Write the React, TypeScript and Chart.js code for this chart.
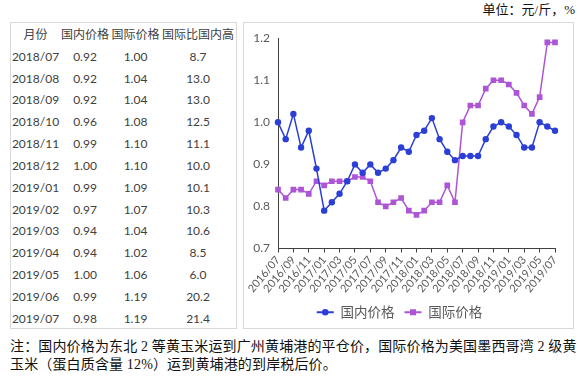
import React, { useEffect, useRef } from "react";
import { Chart, registerables } from "chart.js";

Chart.register(...registerables);

const months = [
  "2016/07", "2016/08", "2016/09", "2016/10", "2016/11", "2016/12",
  "2017/01", "2017/02", "2017/03", "2017/04", "2017/05", "2017/06",
  "2017/07", "2017/08", "2017/09", "2017/10", "2017/11", "2017/12",
  "2018/01", "2018/02", "2018/03", "2018/04", "2018/05", "2018/06",
  "2018/07", "2018/08", "2018/09", "2018/10", "2018/11", "2018/12",
  "2019/01", "2019/02", "2019/03", "2019/04", "2019/05", "2019/06",
  "2019/07",
];

const domesticPrice = [
  1.0, 0.96, 1.02, 0.94, 0.98, 0.89,
  0.79, 0.81, 0.83, 0.86, 0.9, 0.88,
  0.9, 0.88, 0.89, 0.91, 0.94, 0.93,
  0.97, 0.98, 1.01, 0.96, 0.93, 0.91,
  0.92, 0.92, 0.92, 0.96, 0.99, 1.0,
  0.99, 0.97, 0.94, 0.94, 1.0, 0.99,
  0.98,
];

const intlPrice = [
  0.84, 0.82, 0.84, 0.84, 0.83, 0.86,
  0.85, 0.86, 0.86, 0.86, 0.87, 0.87,
  0.86, 0.81, 0.8, 0.81, 0.82, 0.79,
  0.78, 0.79, 0.81, 0.81, 0.85, 0.81,
  1.0, 1.04, 1.04, 1.08, 1.1, 1.1,
  1.09, 1.07, 1.04, 1.02, 1.06, 1.19,
  1.19,
];

const tableHeaders = ["月份", "国内价格", "国际价格", "国际比国内高"];
const tableMonths = [
  "2018/07", "2018/08", "2018/09", "2018/10", "2018/11", "2018/12",
  "2019/01", "2019/02", "2019/03", "2019/04", "2019/05", "2019/06", "2019/07",
];
const tableDomestic = ["0.92", "0.92", "0.92", "0.96", "0.99", "1.00", "0.99", "0.97", "0.94", "0.94", "1.00", "0.99", "0.98"];
const tableIntl = ["1.00", "1.04", "1.04", "1.08", "1.10", "1.10", "1.09", "1.07", "1.04", "1.02", "1.06", "1.19", "1.19"];
const tablePct = ["8.7", "13.0", "13.0", "12.5", "11.1", "10.0", "10.1", "10.3", "10.6", "8.5", "6.0", "20.2", "21.4"];

const seriesNames = ["国内价格", "国际价格"];
const yTicks = { min: 0.7, max: 1.2, step: 0.1 };

const unitText = "单位：元/斤，%";
const noteLine1 = "注：国内价格为东北 2 等黄玉米运到广州黄埔港的平仓价，国际价格为美国墨西哥湾 2 级黄";
const noteLine2 = "玉米（蛋白质含量 12%）运到黄埔港的到岸税后价。";

const BLUE = "#2b3fd6";
const PURPLE = "#ad55d6";
const AXIS = "#404040";
const LABEL = "#595959";

const legendMarkers = {
  id: "legendMarkers",
  afterDraw(chart: any) {
    const lg = chart.legend;
    if (!lg || !lg.legendHitBoxes) return;
    const ctx = chart.ctx;
    lg.legendHitBoxes.forEach((hb: any, i: number) => {
      const color = i === 0 ? BLUE : PURPLE;
      const cy = hb.top + hb.height / 2;
      const x0 = hb.left;
      const w = 17;
      ctx.save();
      ctx.strokeStyle = color;
      ctx.fillStyle = color;
      ctx.lineWidth = 2;
      ctx.beginPath();
      ctx.moveTo(x0, cy);
      ctx.lineTo(x0 + w, cy);
      ctx.stroke();
      if (i === 0) {
        ctx.beginPath();
        ctx.arc(x0 + w / 2, cy, 3.3, 0, Math.PI * 2);
        ctx.fill();
      } else {
        ctx.fillRect(x0 + w / 2 - 3, cy - 3, 6, 6);
      }
      ctx.restore();
    });
  },
};

function PriceChart() {
  const ref = useRef<HTMLCanvasElement | null>(null);
  useEffect(() => {
    if (!ref.current) return;
    const font = "Lato, 'Noto Sans CJK SC', sans-serif";
    const chart = new Chart(ref.current, {
      type: "line",
      data: {
        labels: months,
        datasets: [
          {
            label: seriesNames[0],
            data: domesticPrice,
            borderColor: BLUE,
            backgroundColor: BLUE,
            borderWidth: 1.5,
            pointStyle: "circle",
            pointRadius: 3.2,
            pointBorderWidth: 0,
            tension: 0,
          },
          {
            label: seriesNames[1],
            data: intlPrice,
            borderColor: PURPLE,
            backgroundColor: PURPLE,
            borderWidth: 1.5,
            pointStyle: "rect",
            pointRadius: 4,
            pointBorderWidth: 0,
            tension: 0,
          },
        ],
      },
      options: {
        animation: false,
        responsive: false,
        events: [],
        layout: { padding: { left: 0, top: 15, right: 19, bottom: 0 } },
        plugins: {
          tooltip: { enabled: false },
          legend: {
            position: "bottom",
            labels: {
              usePointStyle: true,
              pointStyleWidth: 17,
              padding: 10,
              color: LABEL,
              font: { family: font, size: 13.5 },
              generateLabels: () => [
                { text: seriesNames[0], pointStyle: false as any, fillStyle: BLUE, strokeStyle: BLUE, lineWidth: 0, hidden: false, datasetIndex: 0, fontColor: LABEL },
                { text: seriesNames[1], pointStyle: false as any, fillStyle: PURPLE, strokeStyle: PURPLE, lineWidth: 0, hidden: false, datasetIndex: 1, fontColor: LABEL },
              ],
            },
          },
        },
        scales: {
          x: {
            type: "category",
            offset: false,
            afterBuildTicks: (scale: any) => {
              scale.ticks = scale.ticks.filter((t: any) => t.value % 2 === 0);
            },
            afterFit: (scale: any) => {
              scale.height = 47;
            },
            grid: {
              display: true,
              drawOnChartArea: false,
              drawTicks: true,
              tickLength: 4,
              color: AXIS,
              tickColor: AXIS,
            },
            border: { display: true, color: AXIS, width: 1 },
            ticks: {
              autoSkip: false,
              minRotation: 50,
              maxRotation: 50,
              padding: 1,
              color: LABEL,
              font: { family: font, size: 11 },
            },
          },
          y: {
            min: yTicks.min,
            max: yTicks.max,
            afterFit: (scale: any) => {
              scale.width = 34;
            },
            grid: { display: false, drawTicks: false },
            border: { display: true, color: AXIS, width: 1 },
            ticks: {
              stepSize: yTicks.step,
              padding: 8,
              color: LABEL,
              font: { family: font, size: 12 },
              callback: (v: any) => Number(v).toFixed(1),
            },
          },
        },
      },
      plugins: [legendMarkers],
    });
    return () => chart.destroy();
  }, []);
  return <canvas ref={ref} width={330} height={306} style={{ width: 330, height: 306, display: "block" }} />;
}

export default function App() {
  const tableFont = "Lato, 'Noto Sans CJK SC', sans-serif";
  const colCenters = [35.5, 85, 135.5, 198];
  const rowH = 21.83;
  const headerY = 35;
  const cell = (text: string, cx: number, cy: number, key: string) => (
    <div
      key={key}
      style={{
        position: "absolute",
        left: cx - 45,
        top: cy - 11,
        width: 90,
        height: 22,
        lineHeight: "22px",
        textAlign: "center",
        whiteSpace: "nowrap",
      }}
    >
      {text}
    </div>
  );
  const cells: React.ReactNode[] = [];
  tableHeaders.forEach((h, i) => cells.push(cell(h, colCenters[i], headerY, "h" + i)));
  tableMonths.forEach((m, r) => {
    const cy = headerY + (r + 1) * rowH;
    cells.push(cell(m, colCenters[0], cy, "m" + r));
    cells.push(cell(tableDomestic[r], colCenters[1], cy, "d" + r));
    cells.push(cell(tableIntl[r], colCenters[2], cy, "i" + r));
    cells.push(cell(tablePct[r], colCenters[3], cy, "p" + r));
  });
  const serif = "'Liberation Serif', 'Noto Sans CJK SC', serif";
  return (
    <div style={{ position: "absolute", left: 0, top: 0, width: 580, height: 388, background: "#fff", overflow: "hidden" }}>
      <div
        style={{
          position: "absolute",
          right: 5,
          top: 1,
          fontFamily: serif,
          fontSize: 13,
          lineHeight: "18px",
          color: "#111",
          whiteSpace: "nowrap",
        }}
      >
        {unitText}
      </div>
      <div
        style={{
          position: "absolute",
          left: 10,
          top: 22,
          width: 227,
          height: 307,
          boxSizing: "border-box",
          border: "1px solid #d9d9d9",
        }}
      />
      <div style={{ position: "absolute", left: 0, top: 0, fontFamily: tableFont, fontSize: 12, color: "#404040" }}>{cells}</div>
      <div
        style={{
          position: "absolute",
          left: 243,
          top: 22,
          width: 331,
          height: 307,
          boxSizing: "border-box",
          border: "1px solid #d9d9d9",
        }}
      />
      <div style={{ position: "absolute", left: 244, top: 23, width: 330, height: 306 }}>
        <PriceChart />
      </div>
      <div
        style={{
          position: "absolute",
          left: 10,
          top: 338,
          fontFamily: serif,
          fontSize: 14,
          lineHeight: "18px",
          color: "#111",
          whiteSpace: "nowrap",
          letterSpacing: "0.15px",
        }}
      >
        <div>{noteLine1}</div>
        <div>{noteLine2}</div>
      </div>
    </div>
  );
}
